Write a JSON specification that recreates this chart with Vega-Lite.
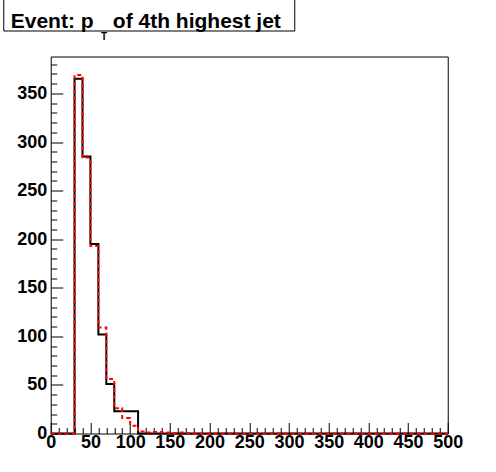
{
  "$schema": "https://vega.github.io/schema/vega-lite/v6.json",
  "padding": {"left": 2, "top": -3.5, "right": 0, "bottom": 0},
  "background": "white",
  "config": {
    "view": {"stroke": "black", "strokeWidth": 1},
    "axis": {
      "labelFont": "Liberation Sans", "labelFontWeight": "bold", "labelFontSize": 18,
      "labelColor": "black", "tickColor": "black", "tickWidth": 1, "domain": false,
      "grid": false, "title": null, "labelFlush": false, "labelOverlap": false
    }
  },
  "datasets": {
    "hist": [
      {"s": "black", "x": 0, "y": 0}, {"s": "black", "x": 10, "y": 0}, {"s": "black", "x": 20, "y": 0},
      {"s": "black", "x": 30, "y": 365}, {"s": "black", "x": 40, "y": 285}, {"s": "black", "x": 50, "y": 195},
      {"s": "black", "x": 60, "y": 102}, {"s": "black", "x": 70, "y": 51}, {"s": "black", "x": 80, "y": 23},
      {"s": "black", "x": 90, "y": 23}, {"s": "black", "x": 100, "y": 23}, {"s": "black", "x": 110, "y": 0},
      {"s": "black", "x": 120, "y": 0}, {"s": "black", "x": 130, "y": 0}, {"s": "black", "x": 140, "y": 0},
      {"s": "black", "x": 150, "y": 0}, {"s": "black", "x": 160, "y": 0}, {"s": "black", "x": 170, "y": 0},
      {"s": "black", "x": 180, "y": 0}, {"s": "black", "x": 190, "y": 0}, {"s": "black", "x": 200, "y": 0},
      {"s": "black", "x": 250, "y": 0}, {"s": "black", "x": 300, "y": 0}, {"s": "black", "x": 350, "y": 0},
      {"s": "black", "x": 400, "y": 0}, {"s": "black", "x": 450, "y": 0}, {"s": "black", "x": 500, "y": 0},
      {"s": "red", "x": 0, "y": 0}, {"s": "red", "x": 10, "y": 0}, {"s": "red", "x": 20, "y": 0},
      {"s": "red", "x": 30, "y": 369}, {"s": "red", "x": 40, "y": 284}, {"s": "red", "x": 50, "y": 193},
      {"s": "red", "x": 60, "y": 109}, {"s": "red", "x": 70, "y": 56}, {"s": "red", "x": 80, "y": 26},
      {"s": "red", "x": 90, "y": 16}, {"s": "red", "x": 100, "y": 8}, {"s": "red", "x": 110, "y": 2},
      {"s": "red", "x": 120, "y": 1}, {"s": "red", "x": 130, "y": 1.5}, {"s": "red", "x": 140, "y": 1},
      {"s": "red", "x": 150, "y": 0.5}, {"s": "red", "x": 160, "y": 1}, {"s": "red", "x": 170, "y": 0.3},
      {"s": "red", "x": 180, "y": 0}, {"s": "red", "x": 190, "y": 0}, {"s": "red", "x": 200, "y": 0},
      {"s": "red", "x": 250, "y": 0}, {"s": "red", "x": 300, "y": 0}, {"s": "red", "x": 350, "y": 0},
      {"s": "red", "x": 400, "y": 0}, {"s": "red", "x": 450, "y": 0}, {"s": "red", "x": 500, "y": 0}
    ],
    "label": [{"t": ""}]
  },
  "vconcat": [
    {
      "width": 291, "height": 33,
      "view": {"stroke": "black", "strokeWidth": 1, "fill": "white"},
      "data": {"name": "label"},
      "mark": {"type": "text"},
      "encoding": {
        "text": {"field": "t"},
        "y": {"field": "t", "type": "nominal", "axis": {"orient": "right", "labels": false, "ticks": false, "domain": false, "title": null, "minExtent": 216, "maxExtent": 216}}
      },
      "title": {
        "text": "Event: p\u00a0\u00a0\u00a0\u200aof 4th highest jet",
        "subtitle": "\u2800\u00a0\u00a0\u00a0\u00a0\u00a0\u00a0\u00a0\u00a0\u00a0\u00a0\u00a0\u00a0\u00a0\u00a0\u00a0\u00a0\u00a0\u00a0\u00a0\u00a0\u00a0\u00a0\u00a0\u00a0\u00a0\u00a0\u00a0\u00a0\u00a0\u00a0T",
        "anchor": "start", "frame": "group", "orient": "top", "offset": -44, "dx": 7.5,
        "font": "Liberation Sans", "fontSize": 21, "fontWeight": "bold", "color": "black",
        "subtitleFont": "Liberation Sans", "subtitleFontSize": 10, "subtitleFontWeight": "bold",
        "subtitleColor": "black", "subtitlePadding": 0
      }
    },
    {
      "width": 397, "height": 377,
      "data": {"name": "hist"},
      "layer": [
        {
          "transform": [{"filter": "datum.s === 'black'"}],
          "mark": {"type": "line", "interpolate": "step-after", "color": "black", "strokeWidth": 2},
          "encoding": {
            "x": {"field": "x", "type": "quantitative", "scale": {"domain": [0, 500], "nice": false, "zero": false},
              "axis": {"orient": "bottom", "values": [0, 50, 100, 150, 200, 250, 300, 350, 400, 450, 500], "tickSize": -11, "labelPadding": 11}},
            "y": {"field": "y", "type": "quantitative", "scale": {"domain": [0, 388], "nice": false},
              "axis": {"orient": "left", "values": [0, 50, 100, 150, 200, 250, 300, 350], "tickSize": -12, "labelPadding": 16, "minExtent": 47.5, "maxExtent": 47.5}}
          }
        },
        {
          "transform": [{"filter": "datum.s === 'red'"}],
          "mark": {"type": "line", "interpolate": "step-after", "color": "#ff0000", "strokeWidth": 2, "strokeDash": [4, 3]},
          "encoding": {
            "x": {"field": "x", "type": "quantitative",
              "axis": {"orient": "bottom", "values": [10, 20, 30, 40, 60, 70, 80, 90, 110, 120, 130, 140, 160, 170, 180, 190, 210, 220, 230, 240, 260, 270, 280, 290, 310, 320, 330, 340, 360, 370, 380, 390, 410, 420, 430, 440, 460, 470, 480, 490], "tickSize": -6, "labels": false}},
            "y": {"field": "y", "type": "quantitative",
              "axis": {"orient": "left", "values": [10, 20, 30, 40, 60, 70, 80, 90, 110, 120, 130, 140, 160, 170, 180, 190, 210, 220, 230, 240, 260, 270, 280, 290, 310, 320, 330, 340, 360, 370, 380], "tickSize": -6, "labels": false}}
          }
        }
      ],
      "resolve": {"axis": {"x": "independent", "y": "independent"}}
    }
  ],
  "spacing": 13,
  "center": true
}
